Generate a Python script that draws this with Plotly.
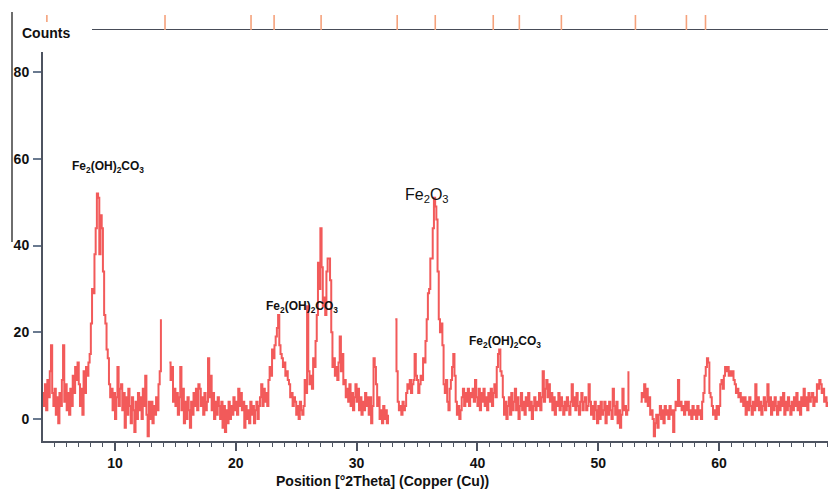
import plotly.graph_objects as go

# ---- data ----
two_theta_start = 4.0   # first measured position, deg 2theta
two_theta_step = 0.1    # step between measured positions

# counts, one row per degree (x.0 ... x.9); None = no data (gap)
intensity = (
    [6, 3, 8, 2, 9, 5, 11, 17, 6, 3] +            # 4
    [7, 1, 5, -1, 6, 3, 9, 17, 4, 8] +            # 5
    [2, 6, 1, 7, 3, 10, 6, 12, 9, 13] +           # 6
    [8, 3, 7, 1, 11, 6, 12, 10, 13, 15] +         # 7
    [22, 30, 29, 38, 44, 52, 51, 38, 47, 44] +    # 8
    [34, 24, 22, 16, 14, 8, 5, 7, 2, 6] +         # 9
    [0, 5, 12, 3, 7, 8, 2, 6, -2, 5] +            # 10
    [1, 7, 3, -1, 5, 2, -3, 4, 0, 6] +            # 11
    [2, 5, 0, 7, 3, 10, 1, -4, 4, 0] +            # 12
    [4, -1, 3, 1, 5, 2, 8, 11, 23, None] +        # 13
    [None, None, None, None, None, 13, 9, 12, 4, 7] +  # 14
    [3, 6, 1, 5, 12, 2, 7, -1, 4, 0] +            # 15
    [5, 2, -2, 4, 1, 6, 3, 7, 2, 8] +             # 16
    [7, 3, 5, 1, 6, 2, 4, 14, 5, 10] +            # 17
    [2, 6, 0, 4, 1, 5, 3, 0, 4, -2] +             # 18
    [3, -3, 2, -1, 4, 0, 3, 1, 5, 2] +            # 19
    [4, 1, 7, 3, 6, 2, 4, -2, 3, 0] +             # 20
    [2, -1, 4, 1, 3, -1, 2, 4, 0, 3] +            # 21
    [5, 8, 3, 7, 4, 6, 3, 9, 12, 10] +            # 22
    [16, 14, 17, 19, 21, 24, 17, 15, 14, 12] +    # 23
    [13, 10, 11, 9, 8, 5, 6, 3, 5, 4] +           # 24
    [1, 3, 0, 4, 2, 1, 3, 9, 6, 26] +             # 25
    [11, 8, 10, 7, 14, 12, 18, 24, 36, 30] +      # 26
    [44, 35, 26, 28, 24, 34, 37, 37, 32, 20] +    # 27
    [12, 14, 10, 12, 9, 13, 19, 11, 15, 8] +      # 28
    [9, 5, 7, 4, 8, 3, 6, 2, 5, 8] +              # 29
    [4, 7, 2, 5, 1, 4, 2, 6, 3, 5] +              # 30
    [1, 5, -1, 3, 14, 12, 8, 3, 5, 0] +           # 31
    [2, -1, 3, 0, 2, -1, 1, None, None, None] +   # 32
    [None, None, 23, 11, 4, 2, 3, 1, 4, 2] +      # 33
    [3, 6, 8, 7, 9, 6, 8, 9, 15, 10] +            # 34
    [9, 6, 8, 10, 9, 14, 13, 18, 23, 29] +        # 35
    [30, 37, 37, 44, 51, 49, 46, 34, 23, 20] +    # 36
    [22, 17, 8, 6, 9, 4, 2, 7, 9, 12] +           # 37
    [15, 10, 4, 1, 3, 0, 2, 5, 7, 3] +            # 38
    [6, 4, 7, 3, 6, 5, 7, 4, 9, 5] +              # 39
    [3, 7, 2, 6, 4, 7, 3, 5, 2, 6] +              # 40
    [4, 7, 3, 6, 8, 5, 12, 15, 16, 11] +          # 41
    [10, 5, 1, 4, 0, 3, 5, 1, 6, 2] +             # 42
    [4, 7, 2, 5, 0, 3, 6, 2, 4, 1] +              # 43
    [5, 3, 6, 2, 4, 0, 3, 5, 2, 4] +              # 44
    [3, 6, 2, 5, 11, 4, 7, 9, 5, 8] +             # 45
    [4, 6, 2, 5, 1, 4, 3, 6, 2, 5] +              # 46
    [3, 1, 4, 2, 5, 3, 1, 4, 8, 3] +              # 47
    [5, 2, 6, 3, 1, 4, 6, 2, 4, 5] +              # 48
    [2, 3, 8, 4, 1, 3, 0, 4, 2, -1] +             # 49
    [3, 0, 4, 1, 2, 4, -1, 3, 1, 4] +             # 50
    [2, 0, 7, 3, 1, 4, -1, 2, -2, 1] +            # 51
    [7, 2, 3, 1, 2, 11, None, None, None, None] + # 52
    [None, None, None, None, None, 4, 6, 5, 8, 4] +  # 53
    [7, 3, 5, 1, 2, 0, -4, -1, 1, -2] +           # 54
    [1, 3, 0, 2, -1, 3, 1, 2, 0, 3] +             # 55
    [1, 2, -3, 2, 4, 3, 9, 3, 4, 2] +             # 56
    [3, 1, 4, 2, 4, 1, 2, 0, 3, 1] +              # 57
    [2, 0, 3, 1, 2, 0, 4, 6, 10, 12] +            # 58
    [14, 13, 6, 5, 3, 1, 2, 0, 3, 1] +            # 59
    [3, 8, 9, 7, 10, 12, 11, 12, 10, 11] +        # 60
    [10, 11, 9, 8, 6, 7, 5, 6, 4, 5] +            # 61
    [3, 5, 1, 4, 2, 5, 3, 1, 4, 2] +              # 62
    [8, 3, 5, 2, 4, 1, 3, 5, 2, 4] +              # 63
    [8, 3, 5, 1, 4, 2, 5, 3, 1, 4] +              # 64
    [2, 5, 3, 6, 1, 4, 2, 5, 3, 1] +              # 65
    [4, 2, 5, 3, 6, 2, 4, 1, 5, 3] +              # 66
    [7, 3, 5, 2, 6, 4, 5, 6, 3, 5] +              # 67
    [4, 8, 7, 9, 8, 6, 7, 4, 5, 3] +              # 68
    [4]                                           # 69
)

# reference pattern stick positions (top strip)
reference_peaks = [14.14, 21.26, 23.17, 27.06, 33.36, 36.51, 41.31,
                   43.47, 46.95, 53.08, 57.30, 58.88]
reference_peaks_short = [4.36]

y_ticks = [0, 20, 40, 60, 80]
x_ticks = [10, 20, 30, 40, 50, 60]

phase_labels = ["Fe<sub>2</sub>(OH)<sub>2</sub>CO<sub>3</sub>",
                "Fe<sub>2</sub>(OH)<sub>2</sub>CO<sub>3</sub>",
                "Fe<sub>2</sub>O<sub>3</sub>",
                "Fe<sub>2</sub>(OH)<sub>2</sub>CO<sub>3</sub>"]
phase_label_x = [9.46, 25.45, 35.84, 42.31]
phase_label_y = [58.1, 25.8, 51.6, 17.7]
phase_label_bold = [True, True, False, True]

# ---- figure ----
FONT = "Liberation Sans, Arial, sans-serif"
AXIS_COL = "#4d5360"

fig = go.Figure()

fig.add_trace(go.Scatter(
    x0=two_theta_start, dx=two_theta_step, y=intensity,
    mode="lines", line=dict(color="#f25a5a", width=2.0, shape="hv"),
    connectgaps=False, hoverinfo="skip", showlegend=False,
    xaxis="x", yaxis="y"))

# reference sticks
sx, sy = [], []
for p in reference_peaks:
    sx += [p, p, None]
    sy += [0, 0.75, None]
for p in reference_peaks_short:
    sx += [p, p, None]
    sy += [0.4, 0.75, None]
fig.add_trace(go.Scatter(
    x=sx, y=sy, mode="lines", line=dict(color="#f5a27c", width=1.6),
    hoverinfo="skip", showlegend=False, xaxis="x", yaxis="y2"))

W, H = 828, 489
ml, mr, mt, mb = 43, 0, 10, 48
plot_w = W - ml - mr
plot_h = H - mt - mb
y_top_px = 52
main_top = (H - mb - y_top_px) / plot_h
strip_bottom = (H - mb - 30) / plot_h

fig.update_layout(
    width=W, height=H,
    margin=dict(l=ml, r=mr, t=mt, b=mb),
    paper_bgcolor="white", plot_bgcolor="white",
    font=dict(family=FONT, color="#111"),
    xaxis=dict(
        range=[4.04, 69.02], anchor="y",
        showgrid=False, zeroline=False,
        showline=True, linecolor=AXIS_COL, linewidth=2,
        ticks="outside", tickcolor=AXIS_COL, ticklen=8, tickwidth=1.5,
        tickvals=x_ticks,
        tickfont=dict(family=FONT, size=14, color="#111", weight="bold"),
        ticklabelstandoff=0,
        minor=dict(dtick=1, ticks="outside", ticklen=4, tickcolor=AXIS_COL,
                   tickwidth=1.2, showgrid=False),
    ),
    yaxis=dict(
        domain=[0, main_top], range=[-5.07, 84.61], anchor="x",
        showgrid=False, zeroline=False,
        showline=True, linecolor=AXIS_COL, linewidth=2,
        ticks="outside", tickcolor="#6a7a90", ticklen=8, tickwidth=1.5,
        tickvals=y_ticks,
        tickfont=dict(family=FONT, size=14, color="#111", weight="bold"),
        ticklabelstandoff=1,
    ),
    yaxis2=dict(
        domain=[strip_bottom, 1.0], range=[0, 1], anchor="x",
        visible=False, showgrid=False, zeroline=False,
    ),
)

# axis line of the top strip
fig.add_shape(type="line", xref="paper", yref="y2",
              x0=(92 - ml) / plot_w, x1=1.0, y0=0, y1=0,
              line=dict(color="#474c58", width=1.8), layer="below")
# left gray frame line
fig.add_shape(type="line", xref="paper", yref="paper",
              x0=(12 - ml) / plot_w, x1=(12 - ml) / plot_w,
              y0=(H - mb - 242) / plot_h, y1=(H - mb - 12) / plot_h,
              line=dict(color="#6e6e6e", width=2))

for t, x, y, b in zip(phase_labels, phase_label_x, phase_label_y, phase_label_bold):
    fig.add_annotation(
        x=x, y=y, xref="x", yref="y", text=t, showarrow=False,
        xanchor="center", yanchor="middle",
        font=dict(family=FONT, size=12 if b else 16, color="#111",
                  weight="bold" if b else "normal"))

fig.add_annotation(
    x=(382 - ml) / plot_w, y=(H - mb - 481) / plot_h,
    xref="paper", yref="paper", text="Position [°2Theta] (Copper (Cu))",
    showarrow=False, xanchor="center", yanchor="middle",
    font=dict(family=FONT, size=14, color="#111", weight="bold"))

fig.add_annotation(
    x=(46 - ml) / plot_w, y=(H - mb - 33) / plot_h,
    xref="paper", yref="paper", text="Counts",
    showarrow=False, xanchor="center", yanchor="middle",
    font=dict(family=FONT, size=14, color="#111", weight="bold"))

fig.write_html("out.html")
